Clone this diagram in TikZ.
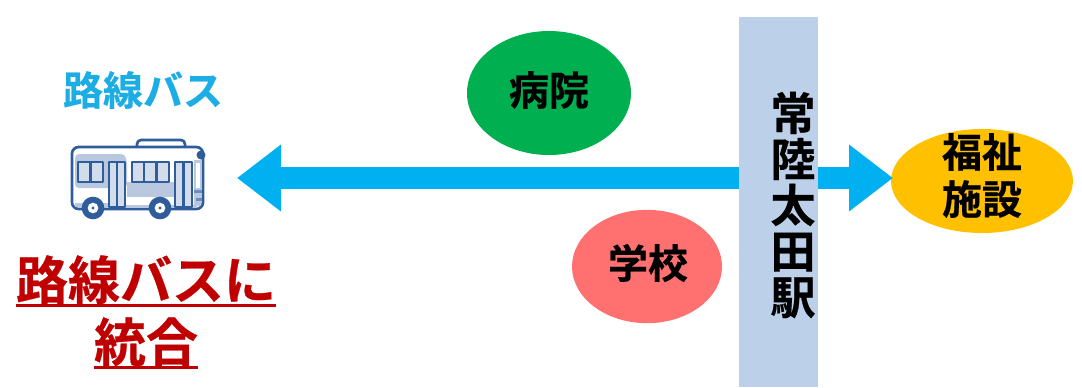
\documentclass[tikz,border=0pt]{standalone}
\usepackage{fontspec}
\usetikzlibrary{arrows.meta,shapes.geometric}
\newfontfamily\cjkb{Noto Sans CJK JP Bold}[FakeBold=0.5]
\definecolor{arrowblue}{HTML}{00B0F0}
\definecolor{barblue}{HTML}{BDD0E9}
\definecolor{hospgreen}{HTML}{00B050}
\definecolor{schoolred}{HTML}{FF7171}
\definecolor{careyellow}{HTML}{FFC000}
\definecolor{darkred}{HTML}{C00000}
\definecolor{labelblue}{HTML}{1CADE4}
\definecolor{busline}{HTML}{2F5D9B}
\definecolor{busfill}{HTML}{B9C8DF}
\definecolor{buspanefill}{HTML}{D3DCEA}
\tikzset{
  place/.style={ellipse,inner sep=0pt},
  placetext/.style={inner sep=0pt,text=black,align=center,
    font=\cjkb\fontsize{30}{35.25}\selectfont},
  redtext/.style={inner sep=0pt,text=darkred,text height=29pt,text depth=4.1pt,
    font=\cjkb\fontsize{39}{39}\selectfont},
  redrule/.style={darkred,line width=2.6pt},
  busstroke/.style={busline,line width=2pt,line join=round},
  buspane/.style={busstroke,fill=buspanefill},
  wheel/.style={circle,fill=busline,minimum size=17pt,inner sep=0pt},
  hub/.style={circle,fill=white,minimum size=8pt,inner sep=0pt},
  hubpin/.style={circle,fill=busline,minimum size=2.5pt,inner sep=0pt},
}
\begin{document}
\begin{tikzpicture}[x=0.75pt,y=-0.75pt]
\useasboundingbox (0,0) rectangle (1082,387);
% ellipses
\node[place,fill=hospgreen,minimum width=123pt,minimum height=93pt] (hosp) at (549,93) {};
\node[placetext] (hosptext) at (549,90) {病院};
\node[place,fill=schoolred,minimum width=112.5pt,minimum height=85pt] (school) at (647,266.5) {};
\node[placetext] (schooltext) at (648,263) {学校};
\node[place,fill=careyellow,minimum width=136.5pt,minimum height=78pt] (care) at (982,181) {};
\coordinate (carepoint) at (893,178);
% arrow
\coordinate (busend) at (237,178);
\draw[arrowblue,line width=16.5pt,{Triangle[length=33pt,width=48pt]}-{Triangle[length=33pt,width=48pt]}] (busend) -- (carepoint);
\node[placetext] (caretext) at (982,175.5) {福祉\\施設};
% station bar
\node[fill=barblue,minimum width=59.25pt,minimum height=277.5pt,inner sep=0pt] (bar) at (778.5,202) {};
\node[inner sep=0pt,align=center,font=\cjkb\fontsize{33.75}{34.5}\selectfont] (station) at (793,205) {常\\陸\\太\\田\\駅};
% bus label
\node[inner sep=0pt,text=labelblue,font=\cjkb\fontsize{30}{30}\selectfont] (buslabel) at (143,90) {路線バス};
% bus icon
\draw[busstroke,fill=white] (137,147) -- (137,144) arc (180:270:4) -- (181,140) arc (270:360:4) -- (185,147);
\draw[busstroke,fill=white,rounded corners=5pt] (72,147) rectangle (203,209);
\fill[busfill,rounded corners=3pt] (75,154) -- (125,154) -- (127,162) -- (127,188) -- (75,188) -- cycle;
\fill[busfill] (127,182) rectangle (175,197);
\fill[busfill] (75,203) rectangle (108,207);
\fill[busfill] (108,205) rectangle (197,208);
\draw[buspane] (78,162) rectangle (103,182);
\draw[busstroke] (90.5,162) -- (90.5,182);
\draw[buspane] (109,162) rectangle (125,207);
\draw[busstroke] (117,162) -- (117,207);
\draw[buspane] (132,162) rectangle (169,182);
\draw[busstroke] (144,162) -- (144,182) (156.5,162) -- (156.5,182);
\draw[buspane] (175,162) rectangle (192,207);
\draw[busstroke] (183.5,162) -- (183.5,207);
\fill[busfill] (194,160) rectangle (201,206);
\fill[white] (196,163) rectangle (200,188);
\fill[busline] (201,155) circle (4.5);
\fill[busline!70] (194,190) rectangle (202,193);
\fill[busline!70] (196,198) rectangle (202,201);
\node[wheel] (w1) at (93,208) {};
\node[hub] (h1) at (93,208) {};
\node[hubpin] (p1) at (93,208) {};
\node[wheel] (w2) at (160,208) {};
\node[hub] (h2) at (160,208) {};
\node[hubpin] (p2) at (160,208) {};
% red text
\node[redtext] (t1) at (146,282.9) {路線バスに};
\node[redtext] (t2) at (146,344.9) {統合};
\draw[redrule] (t1.south west) -- (t1.south east);
\draw[redrule] (t2.south west) -- (t2.south east);
\end{tikzpicture}
\end{document}
